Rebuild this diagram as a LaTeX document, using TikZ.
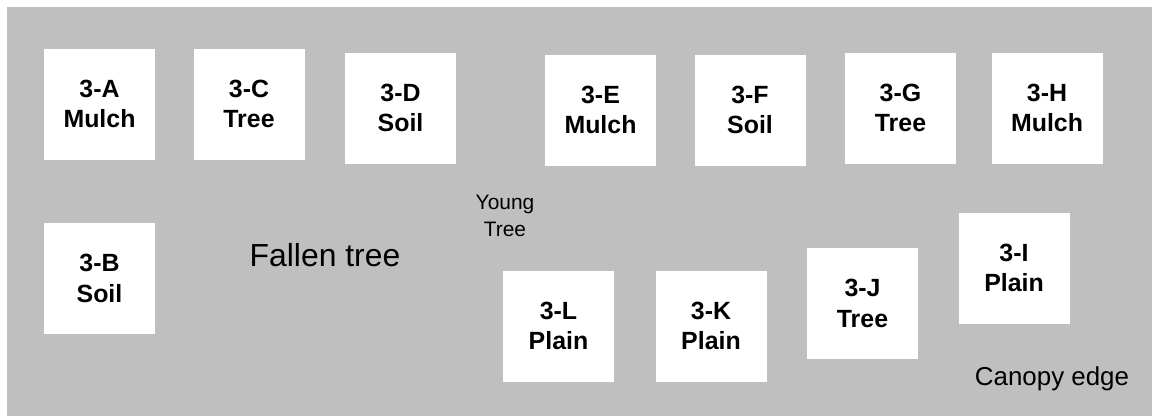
\documentclass[tikz,border=0pt]{standalone}
\usepackage{fontspec}
\setmainfont{Liberation Sans}
\definecolor{groundgray}{RGB}{191,191,191}
\tikzset{
	plotbox/.style={fill=white, minimum width=111bp, minimum height=111bp, inner sep=0pt, align=center, font=\bfseries\fontsize{25}{30.6}\selectfont},
	fieldnote/.style={inner sep=0pt, align=center}
}
\begin{document}
\begin{tikzpicture}[x=1bp,y=-1bp]
				\useasboundingbox (0,0) rectangle (1152,416);
				\fill[groundgray] (7,7) rectangle (1152,416);
				% upper row
				\node[plotbox] (plotA) at (99.5,104) {3-A\\Mulch};
				\node[plotbox] (plotC) at (249,104) {3-C\\Tree};
				\node[plotbox] (plotD) at (400.5,108) {3-D\\Soil};
				\node[plotbox] (plotE) at (600.5,110) {3-E\\Mulch};
				\node[plotbox] (plotF) at (750,110) {3-F\\Soil};
				\node[plotbox] (plotG) at (900.5,108) {3-G\\Tree};
				\node[plotbox] (plotH) at (1047,108) {3-H\\Mulch};
				% lower row
				\node[plotbox] (plotB) at (99.5,278.5) {3-B\\Soil};
				\node[plotbox] (plotL) at (558.5,326) {3-L\\Plain};
				\node[plotbox] (plotK) at (711,326) {3-K\\Plain};
				\node[plotbox] (plotJ) at (862.5,303.5) {3-J\\Tree};
				\node[plotbox] (plotI) at (1014,268) {3-I\\Plain};
				% notes
				\node[fieldnote, anchor=base, font=\fontsize{32}{36}\selectfont] (fallen) at (325,266.7) {Fallen tree};
				\node[fieldnote, font=\fontsize{21}{27.6}\selectfont] (young) at (505,216) {Young\\Tree};
				\node[fieldnote, anchor=base, font=\fontsize{26}{30}\selectfont] (canopy) at (1052,385.7) {Canopy edge};
			\end{tikzpicture}
\end{document}
